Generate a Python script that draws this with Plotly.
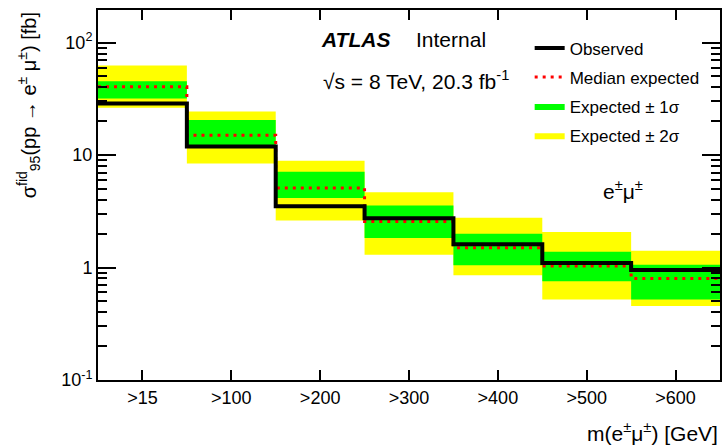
import plotly.graph_objects as go

# ---- data ----
bin_labels = [">15", ">100", ">200", ">300", ">400", ">500", ">600"]
observed = [28.8, 11.9, 3.5, 2.75, 1.61, 1.10, 0.95]
expected = [40.5, 15.0, 5.1, 2.57, 1.50, 1.03, 0.80]
exp_1s_lo = [31.9, 11.6, 4.16, 1.83, 1.05, 0.757, 0.52]
exp_1s_hi = [45.4, 20.5, 7.1, 3.56, 2.0, 1.38, 1.06]
exp_2s_lo = [26.4, 8.4, 2.62, 1.30, 0.855, 0.521, 0.455]
exp_2s_hi = [62.6, 24.4, 8.9, 4.67, 2.77, 2.07, 1.41]
y_tick_vals = [0.1, 1, 10, 100]
y_tick_text = ["10<sup>-1</sup>", "1", "10", "10<sup>2</sup>"]

FONT = "Liberation Sans, Arial, Helvetica, sans-serif"
n = len(bin_labels)
edges = list(range(n + 1))
centers = [i + 0.5 for i in range(n)]


def step(vals):
    return list(vals) + [vals[-1]]


fig = go.Figure()

# +-2 sigma band
fig.add_trace(go.Scatter(x=edges, y=step(exp_2s_lo), mode="lines", line=dict(width=0, shape="hv"),
                         showlegend=False, hoverinfo="skip", legendgroup="g2", legendrank=4))
fig.add_trace(go.Scatter(x=edges, y=step(exp_2s_hi), mode="lines", line=dict(width=0, shape="hv"),
                         fill="tonexty", fillcolor="#FFFF00", name="Expected \u00b1 2\u03c3",
                         legendgroup="g2", legendrank=4))
# +-1 sigma band
fig.add_trace(go.Scatter(x=edges, y=step(exp_1s_lo), mode="lines", line=dict(width=0, shape="hv"),
                         showlegend=False, hoverinfo="skip", legendgroup="g1", legendrank=3))
fig.add_trace(go.Scatter(x=edges, y=step(exp_1s_hi), mode="lines", line=dict(width=0, shape="hv"),
                         fill="tonexty", fillcolor="#00FF00", name="Expected \u00b1 1\u03c3",
                         legendgroup="g1", legendrank=3))
# median expected
fig.add_trace(go.Scatter(x=edges, y=step(expected), mode="lines",
                         line=dict(color="#FF0000", width=3, dash="3px,5px", shape="hv"),
                         name="Median expected", legendgroup="med", legendrank=2))
# observed
fig.add_trace(go.Scatter(x=edges, y=step(observed), mode="lines",
                         line=dict(color="black", width=4, shape="hv"),
                         name="Observed", legendgroup="obs", legendrank=1))

# minor ticks on log axis
minor_vals = [m * 10 ** k for k in range(-1, 3) for m in range(2, 10)]

fig.update_layout(
    width=724, height=445,
    margin=dict(l=98, r=2, t=10, b=65),
    paper_bgcolor="white", plot_bgcolor="white",
    font=dict(family=FONT, size=18, color="black"),
    showlegend=True,
    legend=dict(x=0.694, y=0.945, xanchor="left", yanchor="top",
                bgcolor="rgba(0,0,0,0)", font=dict(size=17, family=FONT),
                traceorder="grouped", tracegroupgap=4, itemwidth=30),
    xaxis=dict(range=[0, n], tickmode="array", tickvals=centers, ticktext=bin_labels,
               ticks="inside", ticklen=10, tickwidth=1.5, tickcolor="black",
               showline=True, linecolor="black", linewidth=2, mirror="ticks",
               showgrid=False, zeroline=False, tickfont=dict(size=18)),
    yaxis=dict(type="log", range=[-1, 2.29], tickmode="array", tickvals=y_tick_vals,
               ticktext=y_tick_text, ticks="inside", ticklen=18, tickwidth=1.5, tickcolor="black",
               minor=dict(tickmode="array", tickvals=minor_vals, ticks="inside", ticklen=9,
                          tickwidth=1.5, tickcolor="black", showgrid=False),
               showline=True, linecolor="black", linewidth=2, mirror="ticks",
               showgrid=False, zeroline=False, tickfont=dict(size=18)),
)

annotations = [
    dict(text="<b><i>ATLAS</i></b>", x=0.356, y=0.919, xanchor="left", yanchor="middle",
         font=dict(size=21)),
    dict(text="Internal", x=0.508, y=0.919, xanchor="left", yanchor="middle",
         font=dict(size=21)),
    dict(text="\u221as = 8 TeV, 20.3 fb<sup>-1</sup>", x=0.359, y=0.811, xanchor="left",
         yanchor="middle", font=dict(size=21)),
    dict(text="e<sup>\u00b1</sup>\u03bc<sup>\u00b1</sup>", x=0.809, y=0.514, xanchor="left",
         yanchor="middle", font=dict(size=21)),
    dict(text="\u03c3<sup>fid</sup><sub>95</sub>(pp \u2192 e<sup>\u00b1</sup> \u03bc<sup>\u00b1</sup>) [fb]",
         x=-0.112, y=1.0, xanchor="center", yanchor="top", textangle=-90,
         font=dict(size=20)),
    dict(text="m(e<sup>\u00b1</sup>\u03bc<sup>\u00b1</sup>) [GeV]", x=1.0, y=-0.14,
         xanchor="right", yanchor="middle", font=dict(size=21)),
]
for a in annotations:
    a.update(xref="paper", yref="paper", showarrow=False)
fig.update_layout(annotations=annotations)

fig.write_html("out.html")
